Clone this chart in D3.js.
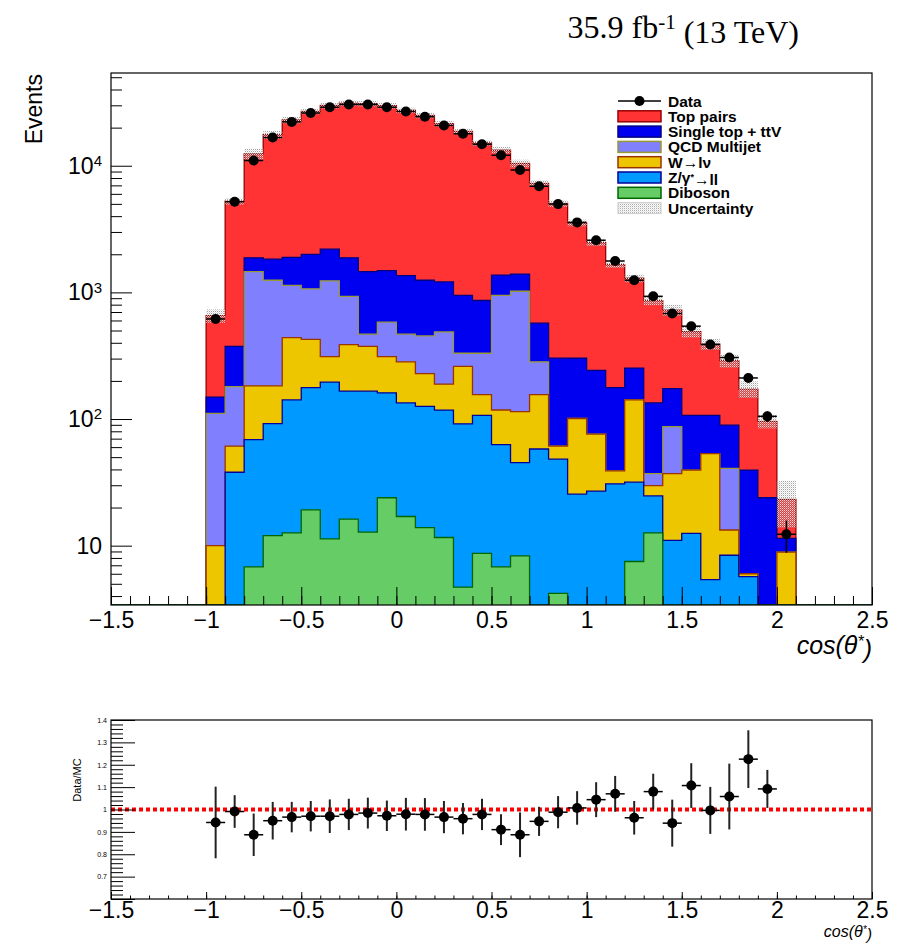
<!DOCTYPE html>
<html>
<head>
<meta charset="utf-8">
<script src="https://cdn.jsdelivr.net/npm/d3@7"></script>
<style>
  body { margin: 0; background: #fff; }
  svg { font-family: "Liberation Sans", Arial, sans-serif; display: block; }
  .axis path { display: none; }
  .axis line { stroke: #000; stroke-width: 1; }
  .axis text { fill: #000; font-family: "Liberation Sans", Arial, sans-serif; }
</style>
</head>
<body>
<svg width="897" height="944"></svg>
<script>
// bin edges of cos(theta*), 0.1 wide
const binEdges = [-1.0, -0.9, -0.8, -0.7, -0.6, -0.5, -0.4, -0.3, -0.2, -0.1, 0.0,
  0.1, 0.2, 0.3, 0.4, 0.5, 0.6, 0.7, 0.8, 0.9, 1.0, 1.1, 1.2, 1.3, 1.4, 1.5,
  1.6, 1.7, 1.8, 1.9, 2.0, 2.1];

// per-process event counts (not cumulative), one value per bin
const diboson = [0, 0, 6.8, 12.0, 12.6, 19.2, 11.3, 16.2, 12.8, 23.9, 17.0, 13.9, 11.6, 4.7, 8.7, 6.8,
  8.3, 0, 4.2, 0, 0, 0, 7.5, 12.6, 0, 0, 0, 0, 0, 0, 0];
const zjets = [0, 38, 62, 80, 129, 158, 184, 150, 153, 137, 117, 112, 106, 87, 98, 56,
  37, 58, 44, 25.5, 27, 30.8, 24.2, 12.1, 11, 12.5, 5.4, 8.4, 5.7, 0, 0];
const wjets = [10.0, 23, 114, 91, 297, 248, 116, 221, 209, 150, 149, 102, 71, 169, 49, 55,
  69, 98, 13, 75.5, 49, 8.2, 110, 5.1, 26, 27, 48, 4.9, 0.3, 0, 8.9];
const qcd = [101, 119, 1276, 1064, 696, 642, 922, 544, 93, 271, 185, 225, 299, 70, 175, 830,
  907, 127, 0, 0, 0, 0, 0, 7.2, 50, 0, 0, 27.4, 0, 0, 0];
const singleTop = [38, 195, 416, 581, 753, 928, 960, 944, 991, 904, 887, 794, 722, 617, 532, 423,
  375, 288, 241, 201, 166, 138, 111, 97, 87, 67.5, 53.5, 48.8, 33.5, 23.9, 2.5];
const ttbar = [506, 4875, 10530, 15750, 21090, 24900, 27700, 29300, 29540, 28350, 26020, 23700, 20320, 17720, 14270, 11930,
  9030, 6700, 4740, 3240, 2230, 1480, 1040, 728, 551, 382, 283, 200, 133, 72, 11.8];
const uncFrac = [0.12, 0.06, 0.10, 0.07, 0.06, 0.05, 0.05, 0.05, 0.05, 0.05, 0.05, 0.05, 0.05, 0.05, 0.05, 0.06,
  0.07, 0.06, 0.06, 0.06, 0.06, 0.06, 0.07, 0.08, 0.10, 0.10, 0.10, 0.12, 0.15, 0.12, 0.40];

const dataVals = [617, 5200, 11000, 16700, 22200, 26100, 29000, 30500, 30500, 29000, 26800, 24400, 20800, 17900, 14800, 12100,
  9250, 6890, 4980, 3570, 2580, 1770, 1247, 931, 681, 541, 388, 306, 211, 105, 12.3];
const dataErr = [25, 72, 105, 129, 149, 162, 170, 175, 175, 170, 164, 156, 144, 134, 122, 110,
  96, 83, 71, 60, 51, 42, 35, 31, 26, 23, 20, 17, 15, 10, 3.5];

// data / MC, last bin falls below the panel
const ratio = [0.942, 0.991, 0.887, 0.950, 0.966, 0.970, 0.970, 0.978, 0.984, 0.972, 0.979, 0.978, 0.966, 0.959, 0.978, 0.910,
  0.887, 0.947, 0.988, 1.007, 1.044, 1.070, 0.963, 1.080, 0.939, 1.107, 0.996, 1.058, 1.225, 1.092, null];
const ratioErr = [0.16, 0.073, 0.095, 0.084, 0.068, 0.068, 0.075, 0.07, 0.069, 0.068, 0.073, 0.073, 0.072, 0.07, 0.07, 0.069,
  0.1, 0.065, 0.072, 0.075, 0.078, 0.08, 0.075, 0.08, 0.105, 0.1, 0.105, 0.147, 0.129, 0.085, null];

const keys = ['diboson', 'zjets', 'wjets', 'qcd', 'singleTop', 'ttbar'];
const styles = {
  ttbar: { fill: '#ff3333', line: '#990000' },
  singleTop: { fill: '#0000f0', line: '#000080' },
  qcd: { fill: '#8080ff', line: '#999933' },
  wjets: { fill: '#eec600', line: '#993300' },
  zjets: { fill: '#0099ff', line: '#000099' },
  diboson: { fill: '#66cc66', line: '#006600' }
};
const legendItems = [
  { label: 'Data', type: 'data' },
  { label: 'Top pairs', key: 'ttbar' },
  { label: 'Single top + ttV', key: 'singleTop' },
  { label: 'QCD Multijet', key: 'qcd' },
  { label: 'W\u2192l\u03bd', key: 'wjets' },
  { label: 'Z/\u03b3*\u2192ll', key: 'zjets' },
  { label: 'Diboson', key: 'diboson' },
  { label: 'Uncertainty', type: 'unc' }
];

const svg = d3.select('svg');
const left = 111;
const width = 761;
const mainTop = 73, mainH = 532;
const ratioTop = 720, ratioH = 179;

const x = d3.scaleLinear().domain([-1.5, 2.5]).range([0, width]);
const y = d3.scaleLog().domain([3.4, 54000]).range([mainH, 0]);
const yr = d3.scaleLinear().domain([0.6, 1.4]).range([ratioH, 0]);
const yMin = y.domain()[0];
const yc = v => y(Math.max(v, yMin));

const defs = svg.append('defs');
defs.append('clipPath').attr('id', 'clipMain')
  .append('rect').attr('width', width).attr('height', mainH);
defs.append('clipPath').attr('id', 'clipRatio')
  .append('rect').attr('width', width).attr('height', ratioH);
const pat = defs.append('pattern')
  .attr('id', 'unc')
  .attr('width', 2)
  .attr('height', 2)
  .attr('patternUnits', 'userSpaceOnUse');
pat.append('rect').attr('width', 1).attr('height', 1).attr('fill', '#a4a4a4');
pat.append('rect').attr('x', 1).attr('y', 1).attr('width', 1).attr('height', 1).attr('fill', '#e2e2e2');

const rows = binEdges.slice(0, -1).map((lo, i) => ({
  lo: lo,
  hi: binEdges[i + 1],
  diboson: diboson[i],
  zjets: zjets[i],
  wjets: wjets[i],
  qcd: qcd[i],
  singleTop: singleTop[i],
  ttbar: ttbar[i]
}));
const series = d3.stack().keys(keys)(rows);
const total = series[series.length - 1].map(d => d[1]);

// ---------- main panel ----------
const main = svg.append('g').attr('transform', 'translate(' + left + ',' + mainTop + ')');
const plot = main.append('g').attr('clip-path', 'url(#clipMain)');

const stepPoints = s => [{ x: x.domain()[0], v: 0 }]
  .concat(s.map((d, i) => ({ x: rows[i].lo, v: d[1] })))
  .concat([{ x: binEdges[binEdges.length - 1], v: 0 }, { x: x.domain()[1], v: 0 }]);

const area = d3.area()
  .curve(d3.curveStepAfter)
  .x(d => x(d.x))
  .y0(mainH)
  .y1(d => yc(d.v));
const contour = d3.line()
  .curve(d3.curveStepAfter)
  .x(d => x(d.x))
  .y(d => yc(d.v));

// THStack style: the sum first, then each lower layer on top of it
series.slice().reverse().forEach(s => {
  const st = styles[s.key];
  const pts = stepPoints(s);
  plot.append('path')
    .datum(pts)
    .attr('fill', st.fill)
    .attr('d', area);
  plot.append('path')
    .datum(pts)
    .attr('fill', 'none')
    .attr('stroke', st.line)
    .attr('stroke-width', 1.3)
    .attr('d', contour);
});

plot.selectAll('.unc')
  .data(rows)
  .enter()
  .append('rect')
  .attr('class', 'unc')
  .attr('x', d => x(d.lo))
  .attr('width', d => x(d.hi) - x(d.lo))
  .attr('y', (d, i) => yc(total[i] * (1 + uncFrac[i])))
  .attr('height', (d, i) => yc(total[i] * (1 - uncFrac[i])) - yc(total[i] * (1 + uncFrac[i])))
  .attr('fill', 'url(#unc)');

const pts = plot.append('g');
rows.forEach((d, i) => {
  const cx = x((d.lo + d.hi) / 2);
  const cy = yc(dataVals[i]);
  pts.append('line')
    .attr('x1', x(d.lo)).attr('x2', x(d.hi))
    .attr('y1', cy).attr('y2', cy)
    .attr('stroke', '#000').attr('stroke-width', 1.5);
  pts.append('line')
    .attr('x1', cx).attr('x2', cx)
    .attr('y1', yc(dataVals[i] - dataErr[i])).attr('y2', yc(dataVals[i] + dataErr[i]))
    .attr('stroke', '#000').attr('stroke-width', 1.5);
  pts.append('circle')
    .attr('cx', cx).attr('cy', cy).attr('r', 5)
    .attr('fill', '#000');
});

main.append('rect')
  .attr('width', width)
  .attr('height', mainH)
  .attr('fill', 'none')
  .attr('stroke', '#000')
  .attr('stroke-width', 1.2);

main.append('g')
  .attr('class', 'axis')
  .attr('transform', 'translate(0,' + mainH + ')')
  .call(d3.axisBottom(x).tickValues(x.ticks(40)).tickSize(-9).tickFormat(''));
main.append('g')
  .attr('class', 'axis axis--x')
  .attr('transform', 'translate(0,' + mainH + ')')
  .call(d3.axisBottom(x).ticks(8).tickSize(-18).tickPadding(7).tickFormat(d3.format('~g')))
  .selectAll('text')
  .attr('font-size', '23px');

const isDecade = v => Math.abs(Math.log10(v) - Math.round(Math.log10(v))) < 1e-9;
main.append('g')
  .attr('class', 'axis')
  .call(d3.axisLeft(y).tickValues(y.ticks().filter(v => !isDecade(v))).tickSize(-11).tickFormat(''));
main.append('g')
  .attr('class', 'axis axis--y')
  .call(d3.axisLeft(y).tickValues(y.ticks().filter(isDecade)).tickSize(-21).tickPadding(9))
  .selectAll('text')
  .attr('font-size', '23px')
  .each(function(d) {
    const e = Math.round(Math.log10(d));
    const t = d3.select(this).text('10');
    if (e > 1) {
      t.append('tspan').attr('dy', '-0.5em').attr('font-size', '15px').text(e);
    }
  });

svg.append('text')
  .attr('transform', 'translate(42,74) rotate(-90)')
  .attr('text-anchor', 'end')
  .attr('font-size', '23px')
  .text('Events');

const xTitle = svg.append('text')
  .attr('x', left + width)
  .attr('y', 654)
  .attr('text-anchor', 'end')
  .attr('font-size', '25px')
  .attr('font-style', 'italic')
  .text('cos(\u03b8');
xTitle.append('tspan').attr('dy', '-0.45em').attr('font-size', '16px').text('*');
xTitle.append('tspan').attr('dy', '0.45em').text(')');

const lumi = svg.append('text')
  .attr('x', 799)
  .attr('y', 38)
  .attr('text-anchor', 'end')
  .attr('font-family', '"Liberation Serif", "Times New Roman", serif')
  .attr('font-size', '32px')
  .text('35.9 fb');
lumi.append('tspan').attr('dy', '-0.42em').attr('font-size', '21px').text('-1');
lumi.append('tspan').attr('dy', '0.42em').text(' (13 TeV)');

// ---------- legend ----------
const legend = svg.append('g').attr('transform', 'translate(618,101)');
legendItems.forEach((item, i) => {
  const g = legend.append('g').attr('transform', 'translate(0,' + (i * 15.3) + ')');
  if (item.type === 'data') {
    g.append('line').attr('x1', 0).attr('x2', 43).attr('y1', 0).attr('y2', 0)
      .attr('stroke', '#000').attr('stroke-width', 1.5);
    g.append('circle').attr('cx', 21.5).attr('cy', 0).attr('r', 5).attr('fill', '#000');
  } else if (item.type === 'unc') {
    g.append('rect').attr('x', 0).attr('y', -5.5).attr('width', 43).attr('height', 11)
      .attr('fill', 'url(#unc)').attr('stroke', '#cccccc').attr('stroke-width', 1);
  } else {
    g.append('rect').attr('x', 0).attr('y', -5.5).attr('width', 43).attr('height', 11)
      .attr('fill', styles[item.key].fill)
      .attr('stroke', styles[item.key].line)
      .attr('stroke-width', 1.5);
  }
  const parts = item.label.split('*');
  const t = g.append('text')
    .attr('x', 50)
    .attr('y', 5.5)
    .attr('font-size', '15.5px')
    .attr('font-weight', 'bold')
    .text(parts[0]);
  if (parts.length > 1) {
    t.append('tspan').attr('dy', '-0.3em').attr('font-size', '9px').text('*');
    t.append('tspan').attr('dy', '0.3em').text(parts[1]);
  }
});

// ---------- ratio panel ----------
const rp = svg.append('g').attr('transform', 'translate(' + left + ',' + ratioTop + ')');

rp.append('line')
  .attr('x1', 0).attr('x2', width)
  .attr('y1', yr(1)).attr('y2', yr(1))
  .attr('stroke', '#ff0000')
  .attr('stroke-width', 4)
  .attr('stroke-dasharray', '4,3');

const rpts = rp.append('g').attr('clip-path', 'url(#clipRatio)');
rows.forEach((d, i) => {
  if (ratio[i] == null) return;
  const cx = x((d.lo + d.hi) / 2);
  const cy = yr(ratio[i]);
  rpts.append('line')
    .attr('x1', x(d.lo)).attr('x2', x(d.hi))
    .attr('y1', cy).attr('y2', cy)
    .attr('stroke', '#000').attr('stroke-width', 1.5);
  rpts.append('line')
    .attr('x1', cx).attr('x2', cx)
    .attr('y1', yr(ratio[i] - ratioErr[i])).attr('y2', yr(ratio[i] + ratioErr[i]))
    .attr('stroke', '#222').attr('stroke-width', 2);
  rpts.append('circle')
    .attr('cx', cx).attr('cy', cy).attr('r', 5)
    .attr('fill', '#000');
});

rp.append('rect')
  .attr('width', width)
  .attr('height', ratioH)
  .attr('fill', 'none')
  .attr('stroke', '#000')
  .attr('stroke-width', 1.2);

rp.append('g')
  .attr('class', 'axis')
  .attr('transform', 'translate(0,' + ratioH + ')')
  .call(d3.axisBottom(x).tickValues(x.ticks(40)).tickSize(-3.5).tickFormat(''));
rp.append('g')
  .attr('class', 'axis axis--x')
  .attr('transform', 'translate(0,' + ratioH + ')')
  .call(d3.axisBottom(x).ticks(8).tickSize(-7).tickPadding(3).tickFormat(d3.format('~g')))
  .selectAll('text')
  .attr('font-size', '23px');

const onTenth = v => Math.abs(v * 10 - Math.round(v * 10)) < 1e-6;
rp.append('g')
  .attr('class', 'axis')
  .call(d3.axisLeft(yr).tickValues(yr.ticks(40).filter(v => !onTenth(v))).tickSize(-12).tickFormat(''));
rp.append('g')
  .attr('class', 'axis axis--y')
  .call(d3.axisLeft(yr).ticks(8).tickSize(-24).tickPadding(4)
    .tickFormat(v => v < 0.65 ? '' : d3.format('~g')(v)))
  .selectAll('text')
  .attr('font-size', '7px')
  .attr('fill', '#444');

svg.append('text')
  .attr('transform', 'translate(81,780) rotate(-90)')
  .attr('text-anchor', 'middle')
  .attr('font-size', '11px')
  .text('Data/MC');

const rTitle = svg.append('text')
  .attr('x', left + width)
  .attr('y', 937)
  .attr('text-anchor', 'end')
  .attr('font-size', '16px')
  .attr('font-style', 'italic')
  .text('cos(\u03b8');
rTitle.append('tspan').attr('dy', '-0.45em').attr('font-size', '10px').text('*');
rTitle.append('tspan').attr('dy', '0.45em').text(')');
</script>
</body>
</html>
